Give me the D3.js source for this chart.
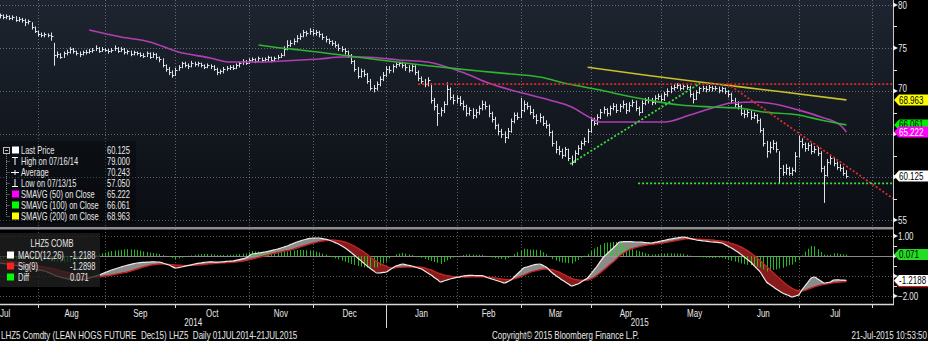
<!DOCTYPE html>
<html>
<head>
<meta charset="utf-8">
<script src="https://cdn.jsdelivr.net/npm/d3@7/dist/d3.min.js"></script>
<style>
html, body { margin: 0; padding: 0; background: #000; overflow: hidden; }
svg { display: block; }
text { font-family: "Liberation Sans", Arial, sans-serif; fill: #e8e8e8; white-space: pre; }
</style>
</head>
<body>
<svg id="chart" width="928" height="341"></svg>
<script>
// ---------------------------------------------------------------
// LHZ5 (Lean Hogs Dec15) daily bars, 1 Jul 2014 - 21 Jul 2015.
// One entry per weekday session, session 0 = 1 Jul 2014.
// ---------------------------------------------------------------
const closes = [
  78.2,78.5,78.4,78.7,78.6,78.8,78.5,78.7,78.9,78.8,
  78.7,78.8,78.6,78.7,78.5,78.6,78.3,78.4,78.2,78.0,
  78.1,77.4,77.0,76.6,76.5,76.6,76.5,76.4,74.2,74.3,
  74.0,74.4,74.5,74.9,74.6,74.4,74.3,74.5,74.5,74.7,
  74.8,75.0,74.7,74.9,74.8,74.6,74.8,75.0,74.7,74.9,
  74.5,74.6,74.3,74.5,74.4,74.2,74.1,74.4,74.0,74.3,
  73.9,73.7,73.0,72.6,72.2,71.9,72.5,72.8,73.2,73.0,
  72.9,73.3,73.1,73.2,73.0,72.8,73.0,72.9,72.6,72.2,
  72.3,72.6,72.7,72.8,72.7,73.0,73.2,73.5,73.3,73.6,
  73.7,73.5,73.8,73.6,73.7,73.9,73.6,73.8,74.0,74.2,
  74.9,75.4,75.6,75.8,76.2,76.4,76.9,76.7,77.0,76.8,
  76.9,76.6,76.3,76.0,75.8,75.6,75.4,75.0,74.9,74.6,
  74.2,73.5,72.6,71.8,72.3,72.0,71.2,70.4,70.3,70.8,
  71.4,71.9,72.6,72.4,72.9,73.1,73.3,73.0,72.8,72.5,
  72.9,72.2,71.5,71.2,70.8,71.3,69.0,68.2,67.5,67.8,
  68.5,70.2,69.3,68.9,69.2,68.6,68.2,67.5,67.8,67.2,
  67.6,68.0,68.5,68.2,67.4,66.8,66.0,65.3,65.0,64.7,
  65.4,66.5,67.2,67.0,67.8,68.5,68.2,67.6,67.1,66.6,
  67.0,66.3,66.0,65.2,64.0,63.3,63.0,62.6,63.2,62.2,
  61.8,62.8,63.4,63.9,64.2,65.3,66.6,66.3,67.0,67.6,
  67.9,67.4,68.0,68.3,67.8,68.2,68.5,67.8,68.4,68.7,
  68.0,67.6,68.6,68.9,69.0,68.7,69.2,69.4,69.1,69.6,
  70.0,70.3,70.5,70.7,70.4,70.6,70.5,69.6,69.1,69.9,
  70.3,70.4,70.2,70.5,70.3,70.4,70.1,70.3,70.0,69.6,
  69.0,68.5,68.3,67.5,67.3,67.6,67.0,67.2,66.6,65.5,
  64.0,63.0,63.5,64.0,63.2,61.0,60.6,61.0,60.5,60.8,
  62.5,64.2,63.8,63.4,63.7,63.0,63.3,62.8,61.0,60.2,
  61.8,62.2,61.6,61.2,61.0,60.5,60.125
];
const highs = [
  78.5,78.7,78.8,78.9,78.9,78.9,78.9,78.9,78.95,78.95,
  78.9,79.0,78.9,78.9,78.8,78.8,78.7,78.6,78.5,78.4,
  78.3,78.0,77.5,77.0,76.8,76.8,76.7,76.8,75.6,74.6,
  74.4,74.6,74.8,75.1,75.0,74.7,74.6,74.7,74.8,74.9,
  75.0,75.3,75.1,75.1,75.0,74.9,75.0,75.3,75.1,75.1,
  75.0,74.8,74.7,74.7,74.6,74.5,74.4,74.6,74.5,74.5,
  74.4,74.0,73.8,73.1,72.8,72.4,72.7,73.0,73.4,73.4,
  73.2,73.5,73.4,73.4,73.3,73.1,73.2,73.1,73.0,72.7,
  72.5,72.8,72.9,73.0,73.0,73.2,73.4,73.7,73.6,73.8,
  73.9,73.8,74.0,73.9,73.9,74.1,74.0,74.0,74.2,74.4,
  75.2,75.9,75.9,76.1,76.5,76.7,77.1,77.0,77.3,77.2,
  77.1,77.0,76.7,76.4,76.1,75.9,75.8,75.5,75.2,75.0,
  74.7,74.3,73.6,72.8,72.6,72.5,72.1,71.4,70.7,71.1,
  71.7,72.2,72.9,72.9,73.1,73.3,73.4,73.4,73.2,73.0,
  73.1,73.0,72.4,71.7,71.4,71.6,70.9,69.2,68.5,68.1,
  68.8,71.0,70.4,69.6,69.5,69.4,68.9,68.4,68.1,68.0,
  67.9,68.3,68.9,68.8,68.4,67.6,67.0,66.2,65.6,65.3,
  65.7,66.8,67.5,67.5,69.2,68.9,68.7,68.3,67.9,67.3,
  67.4,67.1,66.6,66.2,65.4,64.2,63.6,63.3,63.5,63.3,
  62.5,63.1,63.7,64.2,64.6,65.6,67.0,66.9,67.3,67.9,
  68.2,68.0,68.3,68.6,68.5,68.5,68.9,68.6,68.7,69.0,
  68.9,68.2,68.9,69.2,69.3,69.2,69.5,69.7,69.6,69.9,
  70.3,70.6,70.8,70.9,70.8,70.8,70.8,70.6,69.8,70.1,
  70.5,70.6,70.6,70.7,70.6,70.6,70.5,70.5,70.4,70.1,
  69.8,69.2,68.8,68.4,67.8,67.9,67.7,67.5,67.3,66.8,
  65.7,64.2,64.1,64.3,64.1,63.0,61.4,61.5,61.2,61.1,
  62.9,64.8,64.5,64.0,64.0,63.9,63.6,63.5,63.0,61.3,
  62.1,62.5,62.3,61.8,61.5,61.2,60.8
];
const lows = [
  77.9,78.0,78.2,78.3,78.4,78.4,78.3,78.4,78.6,78.6,
  78.5,78.5,78.4,78.4,78.3,78.3,78.1,78.1,78.0,77.6,
  77.8,77.2,76.8,76.4,76.3,76.3,76.3,75.9,73.0,73.9,
  73.8,73.9,74.2,74.4,74.4,74.2,74.0,74.2,74.3,74.4,
  74.5,74.7,74.5,74.6,74.6,74.4,74.5,74.7,74.5,74.6,
  74.3,74.3,74.1,74.2,74.2,74.0,73.9,74.0,73.8,73.9,
  73.7,73.4,72.8,72.3,71.9,71.6,71.8,72.4,72.7,72.8,
  72.6,72.8,72.9,72.9,72.8,72.6,72.7,72.6,72.4,71.9,
  72.0,72.1,72.4,72.5,72.5,72.6,72.8,73.1,73.1,73.2,
  73.4,73.3,73.4,73.4,73.5,73.5,73.4,73.5,73.7,73.9,
  74.1,74.8,75.2,75.4,75.7,76.0,76.3,76.4,76.6,76.5,
  76.5,76.3,76.0,75.7,75.5,75.3,75.1,74.7,74.6,74.3,
  73.9,73.2,72.3,71.5,71.6,71.7,70.9,70.1,69.9,70.1,
  70.6,71.2,71.7,72.1,72.2,72.7,72.9,72.7,72.4,72.2,
  72.3,71.9,71.2,70.9,70.5,70.6,68.6,67.8,66.0,67.1,
  67.5,68.4,69.0,68.5,68.6,68.3,67.8,67.1,67.2,66.8,
  66.9,67.3,67.8,67.9,67.0,66.4,65.6,64.9,64.6,64.0,
  64.5,65.2,66.3,66.7,66.9,67.6,67.9,67.3,66.8,66.2,
  66.4,66.0,65.7,64.8,63.6,62.8,62.6,62.2,62.4,61.9,
  61.4,61.7,62.6,63.2,63.7,64.0,65.2,66.0,66.1,66.8,
  67.4,67.1,67.2,67.8,67.5,67.6,68.0,67.4,67.6,68.2,
  67.7,67.2,67.5,68.4,68.6,68.4,68.5,69.0,68.8,68.9,
  69.4,69.8,70.1,70.3,70.1,70.2,70.2,69.3,68.6,69.0,
  69.7,70.0,69.9,70.0,70.0,70.1,69.8,69.9,69.7,69.3,
  68.6,68.1,67.9,67.2,66.9,67.0,66.7,66.8,66.3,65.2,
  63.6,62.3,62.8,63.2,62.9,59.3,60.2,60.3,60.2,60.2,
  60.6,62.3,63.4,63.0,63.1,62.7,62.8,62.5,60.6,57.05,
  60.1,61.5,61.3,60.9,60.7,60.2,59.9
];

// Simple moving averages on close (session number, value)
const sma50Days  = [39,49,58,67,77,83,92,105,111,118,124,130,136,145,152,158,164,171,177,183,190,196,199,208,219,227,234,240,248,255,261,268,274,276];
const sma50      = [77.09,76.28,75.70,74.53,73.84,73.37,73.37,73.60,73.72,73.95,73.95,73.84,73.60,73.37,72.67,71.86,70.93,70.12,69.53,68.95,68.14,66.86,66.40,66.40,66.40,67.21,68.02,68.60,68.72,68.37,67.79,66.98,66.05,65.222];
const sma100Days = [92,99,105,118,130,143,152,161,171,180,189,199,203,214,224,234,242,250,261,268,276];
const sma100     = [75.35,75.00,74.77,74.19,73.60,73.02,72.67,72.33,71.98,71.63,70.81,70.12,69.77,68.95,68.37,68.14,68.02,67.56,67.21,66.63,66.061];
const sma200Days = [195,214,234,255,276];
const sma200     = [72.76,71.80,70.87,69.94,68.963];

// Hand-drawn study lines: [startSession, startPrice, endSession, endPrice]
const studyLines = [
  { name: "resistance", color: "#e02a2a", pts: [142, 70.81, 291, 70.81] },
  { name: "uptrend",    color: "#3fdc3f", pts: [189.5, 61.51, 230.2, 70.90] },
  { name: "downtrend",  color: "#e02a2a", pts: [238.9, 70.81, 290.6, 57.49] },
  { name: "support",    color: "#3fdc3f", pts: [210.8, 59.25, 291, 59.25] }
];

// MACD(12,26) and its 9-day signal, one per session
const macd = [
  -0.10,-0.11,-0.12,-0.13,-0.14,-0.15,-0.18,-0.21,-0.25,-0.28,
  -0.31,-0.35,-0.37,-0.40,-0.42,-0.45,-0.47,-0.49,-0.51,-0.53,
  -0.55,-0.60,-0.65,-0.69,-0.72,-0.75,-0.81,-0.88,-0.95,-1.01,
  -1.06,-1.10,-1.13,-1.16,-1.18,-1.20,-1.19,-1.17,-1.15,-1.11,
  -1.05,-1.00,-0.95,-0.89,-0.83,-0.77,-0.70,-0.65,-0.60,-0.55,
  -0.50,-0.46,-0.42,-0.38,-0.35,-0.33,-0.32,-0.31,-0.30,-0.29,
  -0.30,-0.30,-0.35,-0.40,-0.45,-0.53,-0.60,-0.58,-0.55,-0.51,
  -0.47,-0.44,-0.40,-0.37,-0.35,-0.32,-0.30,-0.29,-0.30,-0.31,
  -0.30,-0.29,-0.27,-0.26,-0.25,-0.22,-0.18,-0.14,-0.10,0.00,
  0.10,0.12,0.15,0.17,0.20,0.23,0.27,0.31,0.35,0.40,
  0.45,0.50,0.57,0.63,0.70,0.75,0.80,0.84,0.88,0.89,
  0.90,0.90,0.87,0.84,0.80,0.74,0.67,0.60,0.51,0.41,
  0.30,0.17,0.04,-0.10,-0.23,-0.37,-0.50,-0.62,-0.74,-0.85,
  -0.84,-0.82,-0.80,-0.70,-0.60,-0.50,-0.45,-0.40,-0.43,-0.47,
  -0.50,-0.55,-0.60,-0.65,-0.75,-0.85,-0.95,-1.07,-1.18,-1.30,
  -1.25,-1.20,-1.15,-1.11,-1.07,-1.04,-1.00,-0.98,-0.97,-0.97,
  -0.98,-0.98,-0.98,-1.04,-1.10,-1.15,-1.20,-1.25,-1.30,-1.35,
  -1.28,-1.20,-1.05,-0.90,-0.75,-0.60,-0.55,-0.50,-0.45,-0.42,
  -0.40,-0.47,-0.55,-0.70,-0.85,-0.97,-1.08,-1.20,-1.30,-1.40,
  -1.50,-1.45,-1.40,-1.30,-1.20,-1.10,-0.90,-0.70,-0.50,-0.27,
  -0.05,0.10,0.25,0.40,0.55,0.70,0.71,0.72,0.72,0.71,
  0.70,0.70,0.69,0.67,0.66,0.65,0.68,0.71,0.75,0.78,
  0.82,0.85,0.88,0.90,0.93,0.95,0.92,0.88,0.84,0.80,
  0.78,0.76,0.74,0.72,0.70,0.69,0.67,0.65,0.57,0.49,
  0.40,0.30,0.20,0.08,-0.05,-0.17,-0.30,-0.47,-0.63,-0.80,
  -1.05,-1.30,-1.42,-1.53,-1.65,-1.75,-1.85,-1.92,-1.98,-2.05,
  -2.00,-1.95,-1.72,-1.50,-1.30,-1.10,-1.05,-1.15,-1.25,-1.35,
  -1.33,-1.30,-1.20,-1.19,-1.20,-1.21,-1.2188
];
const signal = [
  -0.05,-0.06,-0.07,-0.08,-0.09,-0.10,-0.11,-0.13,-0.15,-0.17,
  -0.19,-0.20,-0.22,-0.24,-0.26,-0.28,-0.30,-0.32,-0.34,-0.37,
  -0.40,-0.43,-0.46,-0.49,-0.52,-0.55,-0.58,-0.61,-0.65,-0.70,
  -0.74,-0.78,-0.82,-0.86,-0.90,-0.95,-0.98,-1.00,-1.02,-1.04,
  -1.05,-1.05,-1.05,-1.03,-1.00,-0.98,-0.95,-0.92,-0.89,-0.86,
  -0.83,-0.80,-0.75,-0.70,-0.65,-0.60,-0.55,-0.51,-0.47,-0.44,
  -0.42,-0.40,-0.40,-0.41,-0.42,-0.44,-0.45,-0.46,-0.47,-0.48,
  -0.48,-0.47,-0.46,-0.45,-0.44,-0.42,-0.40,-0.39,-0.38,-0.36,
  -0.35,-0.34,-0.33,-0.32,-0.31,-0.30,-0.28,-0.25,-0.22,-0.19,
  -0.15,-0.11,-0.07,-0.03,0.01,0.05,0.10,0.13,0.17,0.20,
  0.24,0.27,0.30,0.35,0.40,0.45,0.50,0.55,0.60,0.64,
  0.68,0.72,0.75,0.77,0.79,0.80,0.79,0.77,0.74,0.70,
  0.64,0.57,0.49,0.40,0.30,0.20,0.08,-0.05,-0.17,-0.28,
  -0.37,-0.45,-0.52,-0.58,-0.60,-0.58,-0.57,-0.56,-0.55,-0.55,
  -0.55,-0.55,-0.55,-0.56,-0.60,-0.65,-0.70,-0.77,-0.84,-0.90,
  -0.95,-0.98,-1.01,-1.03,-1.05,-1.05,-1.05,-1.05,-1.05,-1.04,
  -1.04,-1.04,-1.04,-1.05,-1.06,-1.08,-1.10,-1.12,-1.15,-1.17,
  -1.18,-1.17,-1.14,-1.09,-1.03,-0.96,-0.89,-0.82,-0.77,-0.73,
  -0.69,-0.66,-0.65,-0.66,-0.69,-0.74,-0.80,-0.88,-0.96,-1.04,
  -1.12,-1.17,-1.20,-1.21,-1.21,-1.20,-1.15,-1.07,-0.95,-0.83,
  -0.70,-0.57,-0.42,-0.30,-0.15,0.00,0.12,0.22,0.31,0.37,
  0.42,0.46,0.50,0.53,0.56,0.58,0.60,0.62,0.64,0.66,
  0.69,0.72,0.75,0.78,0.81,0.84,0.86,0.86,0.86,0.85,
  0.84,0.83,0.82,0.81,0.80,0.78,0.76,0.74,0.72,0.68,
  0.63,0.58,0.52,0.45,0.36,0.27,0.16,0.04,-0.09,-0.23,
  -0.38,-0.53,-0.68,-0.83,-0.98,-1.12,-1.26,-1.40,-1.52,-1.62,
  -1.70,-1.74,-1.75,-1.72,-1.66,-1.60,-1.54,-1.49,-1.45,-1.42,
  -1.39,-1.36,-1.34,-1.32,-1.30,-1.29,-1.2898
];

// Legend rows
const priceLegendLabels = ["Last Price", "High on 07/16/14", "Average", "Low on 07/13/15", "SMAVG (50) on Close", "SMAVG (100) on Close", "SMAVG (200) on Close"];
const priceLegendValues = ["60.125", "79.000", "70.243", "57.050", "65.222", "66.061", "68.963"];
const macdLegendLabels = ["MACD(12,26)", "Sig(9)", "Diff"];
const macdLegendValues = ["-1.2188", "-1.2898", "0.071"];

const priceTicks = [55, 60, 65, 70, 75, 80];
const macdTicks = [-2, -1, 0, 1];
const monthNames = ["Jan","Feb","Mar","Apr","May","Jun","Jul","Aug","Sep","Oct","Nov","Dec"];

// ---------------------------------------------------------------
const W = 928, H = 341, AX = 893;
const PT = 0, PB = 227;       // price panel
const MT = 229, MB = 304;     // MACD panel

// weekday session calendar from 1 Jul 2014
const sessions = [];
for (let d = new Date(2014, 6, 1); sessions.length < 310; d.setDate(d.getDate() + 1)) {
  const w = d.getDay();
  if (w > 0 && w < 6) sessions.push(new Date(d));
}

const x  = d3.scaleLinear().domain([23, 284]).range([38, 872]);
const y  = d3.scaleLinear().domain([55, 80]).range([220, 5]);
const ym = d3.scaleLinear().domain([-2, 1]).range([296, 236]);

const svg = d3.select("#chart");
const defs = svg.append("defs");

// condensed terminal-style text helper
function label(g, tx, ty, str, o) {
  o = o || {};
  const t = g.append("text")
    .attr("transform", `translate(${tx},${ty}) scale(${o.sx || 0.8},1)`)
    .attr("dy", "0.36em")
    .attr("font-size", o.size || 10)
    .attr("text-anchor", o.anchor || "start")
    .text(str);
  if (o.color) t.style("fill", o.color);
  return t;
}

const grad = defs.append("linearGradient").attr("id", "pbg").attr("x1", 0).attr("y1", 0).attr("x2", 0).attr("y2", 1);
grad.append("stop").attr("offset", "0%").attr("stop-color", "#1e2530");
grad.append("stop").attr("offset", "100%").attr("stop-color", "#0a0d12");

defs.append("clipPath").attr("id", "clipP").append("rect").attr("x", 0).attr("y", PT).attr("width", AX).attr("height", PB - PT);
defs.append("clipPath").attr("id", "clipM").append("rect").attr("x", 0).attr("y", MT).attr("width", AX).attr("height", MB - MT);

// backgrounds
svg.append("rect").attr("width", W).attr("height", H).attr("fill", "#000");
svg.append("rect").attr("x", 0).attr("y", PT).attr("width", AX).attr("height", PB - PT).attr("fill", "url(#pbg)");

// month boundaries
const monthStarts = [0];
sessions.forEach((d, i) => { if (i > 0 && d.getMonth() !== sessions[i - 1].getMonth()) monthStarts.push(i); });

// grid
const grid = svg.append("g").attr("stroke", "rgba(205,210,220,0.42)").attr("stroke-dasharray", "1,2").attr("stroke-width", 1);
monthStarts.filter(i => x(i) > 0 && x(i) < AX).forEach(i => {
  const gx = Math.round(x(i)) + 0.5;
  grid.append("line").attr("x1", gx).attr("x2", gx).attr("y1", PT).attr("y2", PB);
  grid.append("line").attr("x1", gx).attr("x2", gx).attr("y1", MT).attr("y2", MB);
});
priceTicks.forEach(v => {
  const gy = Math.round(y(v)) + 0.5;
  grid.append("line").attr("x1", 0).attr("x2", AX).attr("y1", gy).attr("y2", gy);
});
[-2, -1, 1].forEach(v => {
  const gy = Math.round(ym(v)) + 0.5;
  grid.append("line").attr("x1", 0).attr("x2", AX).attr("y1", gy).attr("y2", gy);
});

// ---------------- price panel ----------------
const pg = svg.append("g").attr("clip-path", "url(#clipP)");

const bars = pg.append("g").attr("stroke", "#dfe3e8").attr("stroke-width", 1);
closes.forEach((c, i) => {
  const bx = Math.round(x(i)) + 0.5;
  bars.append("line").attr("x1", bx).attr("x2", bx).attr("y1", y(highs[i])).attr("y2", y(lows[i]) + 0.5);
  const cy = Math.round(y(c)) + 0.5;
  bars.append("line").attr("x1", bx).attr("x2", bx + 2).attr("y1", cy).attr("y2", cy);
});

const smaLine = d3.line().x(d => x(d[0])).y(d => y(d[1])).curve(d3.curveMonotoneX);
[[sma50Days, sma50, "#b03fb4"], [sma100Days, sma100, "#2fb52f"], [sma200Days, sma200, "#c8c227"]].forEach(([days, vals, col]) => {
  pg.append("path").datum(days.map((dd, k) => [dd, vals[k]]))
    .attr("d", smaLine).attr("fill", "none").attr("stroke", col).attr("stroke-width", 1.6);
});

studyLines.forEach(s => {
  pg.append("line")
    .attr("x1", x(s.pts[0])).attr("y1", y(s.pts[1]))
    .attr("x2", x(s.pts[2])).attr("y2", y(s.pts[3]))
    .attr("stroke", s.color).attr("stroke-width", 1.8).attr("stroke-dasharray", "2,2");
});

// ---------------- MACD panel ----------------
const mg = svg.append("g").attr("clip-path", "url(#clipM)");
mg.append("line").attr("x1", 0).attr("x2", AX).attr("y1", Math.round(ym(0)) + 0.5).attr("y2", Math.round(ym(0)) + 0.5)
  .attr("stroke", "#8a8a8a").attr("stroke-width", 1);

const idx = d3.range(macd.length);
const aboveSig = d3.area().x(i => x(i)).y0(MT - 5).y1(i => ym(signal[i])).curve(d3.curveMonotoneX);
const belowSig = d3.area().x(i => x(i)).y0(i => ym(signal[i])).y1(MB + 5).curve(d3.curveMonotoneX);
defs.append("clipPath").attr("id", "clipAbove").append("path").attr("d", aboveSig(idx));
defs.append("clipPath").attr("id", "clipBelow").append("path").attr("d", belowSig(idx));
const between = d3.area().x(i => x(i)).y0(i => ym(signal[i])).y1(i => ym(macd[i])).curve(d3.curveMonotoneX);
mg.append("g").attr("clip-path", "url(#clipAbove)").append("path").attr("d", between(idx)).attr("fill", "#9a9a9a").attr("opacity", 0.9);
mg.append("g").attr("clip-path", "url(#clipBelow)").append("path").attr("d", between(idx)).attr("fill", "#8e1c1c").attr("opacity", 0.95);

const hist = mg.append("g").attr("stroke", "#25d025").attr("stroke-width", 1).attr("opacity", 0.9);
idx.forEach(i => {
  const diff = macd[i] - signal[i];
  const hx = Math.round(x(i)) + 0.5;
  hist.append("line").attr("x1", hx).attr("x2", hx).attr("y1", ym(0)).attr("y2", ym(diff));
});

const lineOf = arr => d3.line().x(i => x(i)).y(i => ym(arr[i])).curve(d3.curveMonotoneX)(idx);
mg.append("path").attr("d", lineOf(signal)).attr("fill", "none").attr("stroke", "#c42323").attr("stroke-width", 1.4);
mg.append("path").attr("d", lineOf(macd)).attr("fill", "none").attr("stroke", "#f0e8e8").attr("stroke-width", 1.2);

// panel separator
svg.append("rect").attr("x", 0).attr("y", PB).attr("width", AX).attr("height", 2.5).attr("fill", "#8d8d8d");

// ---------------- legends ----------------
const LEG = { size: 10, sx: 0.75 };
const lg = svg.append("g");
lg.append("rect").attr("x", 0).attr("y", 141).attr("width", 136).attr("height", 82).attr("fill", "rgba(0,0,0,0.3)");
const rowY = k => 150 + k * 11;
// tree guide
lg.append("rect").attr("x", 3.5).attr("y", 147.5).attr("width", 6).attr("height", 6).attr("fill", "none").attr("stroke", "#bbb");
lg.append("line").attr("x1", 5).attr("x2", 8).attr("y1", 150.5).attr("y2", 150.5).attr("stroke", "#bbb");
lg.append("line").attr("x1", 6.5).attr("x2", 6.5).attr("y1", 154).attr("y2", rowY(6)).attr("stroke", "#888").attr("stroke-dasharray", "1,1");
d3.range(1, 7).forEach(k => lg.append("line").attr("x1", 6.5).attr("x2", 10).attr("y1", rowY(k) + 0.5).attr("y2", rowY(k) + 0.5).attr("stroke", "#888").attr("stroke-dasharray", "1,1"));
// icons
const swatch = (k, col) => lg.append("rect").attr("x", 12).attr("y", rowY(k) - 3.5).attr("width", 7).attr("height", 7).attr("fill", col);
swatch(0, "#ffffff");
lg.append("path").attr("d", `M12,${rowY(1) - 3.5}H18M15,${rowY(1) - 3.5}V${rowY(1) + 4}`).attr("stroke", "#fff").attr("fill", "none");
lg.append("path").attr("d", `M11,${rowY(2) + 0.5}H19M15,${rowY(2) - 2}V${rowY(2) + 3}`).attr("stroke", "#fff").attr("fill", "none");
lg.append("path").attr("d", `M15,${rowY(3) - 4}V${rowY(3) + 3.5}M12,${rowY(3) + 3.5}H18`).attr("stroke", "#fff").attr("fill", "none");
swatch(4, "#ff00ff"); swatch(5, "#00ff00"); swatch(6, "#ffff00");
priceLegendLabels.forEach((t, k) => {
  label(lg, 21, rowY(k), t, LEG);
  label(lg, 107, rowY(k), priceLegendValues[k], LEG);
});

const ml = svg.append("g");
ml.append("rect").attr("x", 0).attr("y", 233).attr("width", 100).attr("height", 54).attr("fill", "rgba(32,32,32,0.78)");
label(ml, 52, 243, "LHZ5 COMB", { size: 10, sx: 0.75, anchor: "middle" });
const mcols = ["#ffffff", "#ff2020", "#00ff00"];
macdLegendLabels.forEach((t, k) => {
  const ry = 255 + k * 11;
  ml.append("rect").attr("x", 7).attr("y", ry - 3.5).attr("width", 7).attr("height", 7).attr("fill", mcols[k]);
  label(ml, 18, ry, t, LEG);
  label(ml, 70, ry, macdLegendValues[k], LEG);
});

// ---------------- right axis ----------------
const ax = svg.append("g");
ax.append("line").attr("x1", AX + 0.5).attr("x2", AX + 0.5).attr("y1", 0).attr("y2", MB).attr("stroke", "#c8c8c8");

const priceTags = [
  { v: sma100[sma100.length - 1], col: "#00ee00", tc: "#000", label: "66.061" },
  { v: sma50[sma50.length - 1],   col: "#ff00ff", tc: "#fff", label: "65.222" },
  { v: sma200[sma200.length - 1], col: "#ffff00", tc: "#000", label: "68.963" },
  { v: closes[closes.length - 1], col: "#ffffff", tc: "#000", label: "60.125" }
];
const macdTags = [
  { v: macd[macd.length - 1] - signal[signal.length - 1], col: "#22dd22", tc: "#000", label: "0.071" },
  { v: signal[signal.length - 1], col: "#c42323", tc: "#fff", label: "-1.2898" },
  { v: macd[macd.length - 1], col: "#ffffff", tc: "#000", label: "-1.2188" }
];

function axisTicks(scale, majors, minors, tags, fmt) {
  minors.forEach(v => {
    const ty = Math.round(scale(v)) + 0.5;
    ax.append("line").attr("x1", AX).attr("x2", AX + 4).attr("y1", ty).attr("y2", ty).attr("stroke", "#ddd");
  });
  majors.forEach(v => {
    const ty = scale(v);
    ax.append("path").attr("d", `M${AX},${ty - 2.5}L${AX + 5},${ty}L${AX},${ty + 2.5}Z`).attr("fill", "#eee");
    const gaps = tags.map(t => scale(t.v) - ty);
    const hidden = gaps.some(g => Math.abs(g) < 8);
    if (!hidden) {
      // nudge a label away from a nearby value tag
      const near = gaps.find(g => Math.abs(g) < 12);
      const shift = near === undefined ? 0 : (near > 0 ? -2.5 : 2.5);
      label(ax, AX + 5, ty + shift, fmt(v), { size: 10, sx: 0.8 });
    }
  });
}
axisTicks(y, priceTicks, [57.5, 62.5, 67.5, 72.5, 77.5], priceTags, d3.format("d"));
axisTicks(ym, macdTicks, [-1.5, -0.5, 0.5], macdTags, d3.format(".2f"));

function drawTag(scale, t) {
  const ty = scale(t.v);
  ax.append("path").attr("d", `M${AX + 1},${ty}L${AX + 6},${ty - 5.5}H${W}V${ty + 5.5}H${AX + 6}Z`).attr("fill", t.col);
  label(ax, AX + 6, ty, t.label, { size: 10, sx: 0.8, color: t.tc });
}
priceTags.forEach(t => drawTag(y, t));
macdTags.forEach(t => drawTag(ym, t));

// ---------------- time axis ----------------
const AXT = { size: 10, sx: 0.8 };
const tx = svg.append("g");
tx.append("line").attr("x1", 0).attr("x2", AX + 1).attr("y1", MB + 0.5).attr("y2", MB + 0.5).attr("stroke", "#d8d8d8").attr("stroke-width", 1.5);
let janX = null;
monthStarts.forEach((i, k) => {
  const mx = x(i);
  const d = sessions[i];
  if (mx > 0 && mx < AX) {
    const isJan = d.getMonth() === 0;
    if (isJan) janX = Math.round(mx) + 0.5;
    tx.append("line").attr("x1", Math.round(mx) + 0.5).attr("x2", Math.round(mx) + 0.5)
      .attr("y1", MB).attr("y2", isJan ? 328 : 308).attr("stroke", "#d8d8d8");
  }
  if (k + 1 < monthStarts.length) {
    const cx = (mx + x(monthStarts[k + 1])) / 2;
    if (cx < AX - 10) {
      if (cx < 8) label(tx, 0, 313, monthNames[d.getMonth()], AXT);
      else label(tx, cx, 313, monthNames[d.getMonth()], { size: 10, sx: 0.8, anchor: "middle" });
    }
  }
});
label(tx, janX / 2, 322, "2014", { size: 10, sx: 0.8, anchor: "middle" });
label(tx, (janX + AX) / 2, 322, "2015", { size: 10, sx: 0.8, anchor: "middle" });

// footer
const ft = svg.append("g");
label(ft, 1, 335, "LHZ5 Comdty (LEAN HOGS FUTURE  Dec15) LHZ5  Daily 01JUL2014-21JUL2015", AXT);
label(ft, 492, 335, "Copyright\u00a9 2015 Bloomberg Finance L.P.", AXT);
label(ft, 927, 335, "21-Jul-2015 10:53:50", { size: 10, sx: 0.8, anchor: "end" });
</script>
</body>
</html>
